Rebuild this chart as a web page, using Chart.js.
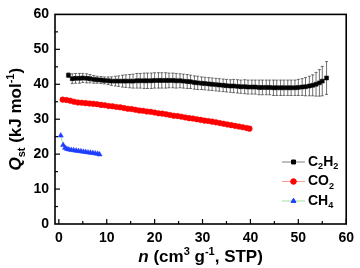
<!DOCTYPE html>
<html>
<head>
<meta charset="utf-8">
<script src="https://cdn.jsdelivr.net/npm/chart.js@4/dist/chart.umd.min.js"></script>
<style>
  html, body { margin: 0; padding: 0; background: #fff; }
  #wrap { width: 360px; height: 268px; }
</style>
</head>
<body>
<div id="wrap"><canvas id="qstChart" width="360" height="268"></canvas></div>
<script>
// valores
const c2h2N = [2.0, 2.8, 3.5, 4.3, 5.0, 5.8, 6.5, 7.3, 8.0, 8.8, 9.5, 10.3, 11.0, 11.8, 12.5, 13.3, 14.0, 14.8, 15.5, 16.3,
  17.0, 17.8, 18.5, 19.3, 20.0, 20.8, 21.5, 22.3, 23.0, 23.8, 24.5, 25.3, 26.0, 26.8, 27.5, 28.3, 29.0, 29.8, 30.5, 31.3,
  32.0, 32.8, 33.5, 34.3, 35.0, 35.8, 36.5, 37.3, 38.0, 38.8, 39.5, 40.3, 41.0, 41.8, 42.5, 43.3, 44.0, 44.8, 45.5, 46.3,
  47.0, 47.8, 48.5, 49.3, 50.0, 50.8, 51.5, 52.3, 53.0, 53.7, 54.4, 55.0, 55.9];
const c2h2Q = [42.6, 41.6, 41.7, 41.7, 41.8, 41.7, 41.6, 41.4, 41.3, 41.2, 41.1, 41.0, 40.9, 40.9, 40.9, 40.9, 40.9, 40.9, 40.9, 41.0,
  41.0, 41.0, 41.0, 41.0, 41.1, 41.1, 41.1, 41.1, 41.1, 41.1, 41.0, 41.0, 40.9, 40.8, 40.7, 40.5, 40.4, 40.3, 40.2, 40.1,
  40.0, 39.9, 39.8, 39.7, 39.6, 39.5, 39.5, 39.4, 39.3, 39.3, 39.2, 39.2, 39.2, 39.1, 39.1, 39.1, 39.1, 39.0, 39.0, 39.0,
  39.0, 39.0, 39.0, 39.0, 39.1, 39.2, 39.3, 39.5, 39.7, 40.0, 40.4, 40.9, 41.8];
const c2h2Err = [0.6, 1.4, 1.4, 1.4, 1.3, 1.3, 1.2, 1.1, 1.0, 1.0, 1.0, 1.1, 1.2, 1.4, 1.5, 1.7, 1.8, 1.9, 2.0, 2.1,
  2.1, 2.2, 2.2, 2.2, 2.2, 2.2, 2.2, 2.2, 2.1, 2.1, 2.1, 2.0, 2.0, 2.0, 1.9, 1.9, 1.9, 1.8, 1.8, 1.8,
  1.8, 1.8, 1.8, 1.8, 1.8, 1.8, 1.9, 1.9, 1.9, 2.0, 2.0, 2.0, 2.0, 2.1, 2.1, 2.1, 2.1, 2.2, 2.2, 2.2,
  2.2, 2.2, 2.2, 2.2, 2.3, 2.4, 2.6, 2.8, 3.0, 3.4, 3.8, 4.2, 4.7];

const co2N = [0.8, 1.6, 2.4, 3.2, 4.0, 4.8, 5.6, 6.4, 7.2, 8.0, 8.8, 9.6, 10.4, 11.2, 12.0, 12.8, 13.6, 14.4, 15.2, 16.0,
  16.8, 17.6, 18.4, 19.2, 20.0, 20.8, 21.6, 22.4, 23.2, 24.0, 24.8, 25.6, 26.4, 27.2, 28.0, 28.8, 29.6, 30.4, 31.2, 32.0,
  32.8, 33.6, 34.4, 35.2, 36.0, 36.8, 37.6, 38.4, 39.2, 39.8];
const co2Q = [35.6, 35.5, 35.3, 35.0, 34.8, 34.7, 34.6, 34.5, 34.4, 34.3, 34.1, 34.0, 33.8, 33.7, 33.5, 33.4, 33.2, 33.0, 32.9, 32.7,
  32.5, 32.4, 32.2, 32.1, 31.9, 31.7, 31.6, 31.4, 31.2, 31.0, 30.9, 30.7, 30.5, 30.3, 30.2, 30.0, 29.8, 29.6, 29.5, 29.3,
  29.1, 28.9, 28.7, 28.5, 28.3, 28.1, 27.9, 27.7, 27.5, 27.3];

const ch4N = [0.4, 0.9, 1.3, 1.7, 2.1, 2.6, 3.1, 3.6, 4.1, 4.6, 5.1, 5.6, 6.1, 6.6, 7.1, 7.6, 8.1, 8.5];
const ch4Q = [25.3, 22.6, 21.8, 21.5, 21.3, 21.2, 21.1, 21.0, 20.9, 20.8, 20.7, 20.6, 20.5, 20.4, 20.3, 20.2, 20.1, 19.9];

const xTicks = [0, 10, 20, 30, 40, 50, 60];
const yTicks = [0, 10, 20, 30, 40, 50, 60];
const seriesNames = [["C", "2", "H", "2"], ["CO", "2"], ["CH", "4"]];

const FONT = "'Liberation Sans', Arial, sans-serif";

const toPts = (xs, ys) => xs.map((x, i) => ({ x: x, y: ys[i] }));

// barras de error, se pintan con las escalas del grafico
const errorBars = {
  id: "errorBars",
  beforeDatasetsDraw(chart) {
    const ctx = chart.ctx;
    const xs = chart.scales.x, ys = chart.scales.y;
    ctx.save();
    ctx.strokeStyle = "#333";
    ctx.lineWidth = 0.7;
    for (let i = 0; i < c2h2N.length; i++) {
      const px = xs.getPixelForValue(c2h2N[i]);
      const top = ys.getPixelForValue(c2h2Q[i] + c2h2Err[i]);
      const bot = ys.getPixelForValue(c2h2Q[i] - c2h2Err[i]);
      ctx.beginPath();
      ctx.moveTo(px, top); ctx.lineTo(px, bot);
      ctx.moveTo(px - 1.5, top); ctx.lineTo(px + 1.5, top);
      ctx.moveTo(px - 1.5, bot); ctx.lineTo(px + 1.5, bot);
      ctx.stroke();
    }
    ctx.restore();
  }
};

// texto con subindices: partes alternas normal-sub
function drawParts(ctx, parts, x, y, size, shift) {
  let cx = x;
  parts.forEach((p, k) => {
    const small = k % 2 === 1;
    ctx.font = "bold " + (small ? size * 0.65 : size) + "px " + FONT;
    ctx.fillText(p, cx, small ? y + shift : y);
    cx += ctx.measureText(p).width;
  });
}

// piezas con fuente y desplazamiento propio
function drawRich(ctx, parts, cx0, y) {
  let w = 0;
  parts.forEach(p => { ctx.font = p[1] + " " + FONT; w += ctx.measureText(p[0]).width; });
  let cx = cx0 - w / 2;
  parts.forEach(p => {
    ctx.font = p[1] + " " + FONT;
    ctx.fillText(p[0], cx, y + (p[2] || 0));
    cx += ctx.measureText(p[0]).width;
  });
}

const frame = {
  id: "frame",
  afterDraw(chart) {
    const ctx = chart.ctx;
    const a = chart.chartArea;
    const xs = chart.scales.x, ys = chart.scales.y;
    ctx.save();
    ctx.strokeStyle = "#000";
    ctx.lineWidth = 1.6;
    ctx.strokeRect(a.left, a.top, a.right - a.left, a.bottom - a.top);

    // marcas hacia dentro
    ctx.lineWidth = 1.2;
    for (let v = 0; v <= 60; v += 5) {
      const len = v % 10 === 0 ? 5 : 3;
      const px = xs.getPixelForValue(v);
      ctx.beginPath(); ctx.moveTo(px, a.bottom); ctx.lineTo(px, a.bottom - len); ctx.stroke();
      if (v > 0 && v < 60) {
        const py = ys.getPixelForValue(v);
        ctx.beginPath(); ctx.moveTo(a.left, py); ctx.lineTo(a.left + len, py); ctx.stroke();
      }
    }

    // leyenda
    const legColors = [["#808080", "#000"], ["#ff9a9a", "#ff0000"], ["#9be39b", "#1f3dff"]];
    const styles = ["rect", "circle", "triangle"];
    const legY = [162, 181.5, 201];
    ctx.textBaseline = "middle";
    ctx.textAlign = "left";
    for (let i = 0; i < 3; i++) {
      ctx.strokeStyle = legColors[i][0];
      ctx.lineWidth = 1;
      ctx.beginPath(); ctx.moveTo(282, legY[i]); ctx.lineTo(305, legY[i]); ctx.stroke();
      ctx.fillStyle = legColors[i][1];
      ctx.strokeStyle = legColors[i][1];
      Chart.helpers.drawPoint(ctx, { pointStyle: styles[i], radius: 2.8, borderWidth: 0.5 }, 293.5, legY[i]);
      ctx.fillStyle = "#000";
      drawParts(ctx, seriesNames[i], 308, legY[i], 14, 4.5);
    }

    // titulo eje x
    ctx.fillStyle = "#000";
    ctx.textBaseline = "alphabetic";
    drawRich(ctx, [["n", "italic bold 17px"], [" (cm", "bold 17px"], ["3", "bold 11px", -7], [" g", "bold 17px"],
      ["-1", "bold 11px", -7], [", STP)", "bold 17px"]], (a.left + a.right) / 2, 262);

    // titulo eje y
    ctx.translate(21, (a.top + a.bottom) / 2);
    ctx.rotate(-Math.PI / 2);
    drawRich(ctx, [["Q", "italic bold 17px"], ["st", "bold 11px", 4], [" (kJ mol", "bold 17px"],
      ["-1", "bold 11px", -7], [")", "bold 17px"]], 0, 0);
    ctx.restore();
  }
};

new Chart(document.getElementById("qstChart"), {
  type: "scatter",
  data: {
    datasets: [
      {
        label: "C2H2",
        data: toPts(c2h2N, c2h2Q),
        showLine: true,
        borderColor: "#808080",
        borderWidth: 1,
        pointStyle: "rect",
        pointRadius: 2.8,
        pointBackgroundColor: "#000",
        pointBorderColor: "#000",
        pointBorderWidth: 0.5
      },
      {
        label: "CO2",
        data: toPts(co2N, co2Q),
        showLine: true,
        borderColor: "#ff9a9a",
        borderWidth: 1,
        pointStyle: "circle",
        pointRadius: 2.8,
        pointBackgroundColor: "#ff0000",
        pointBorderColor: "#ff0000",
        pointBorderWidth: 0.5
      },
      {
        label: "CH4",
        data: toPts(ch4N, ch4Q),
        showLine: true,
        borderColor: "#9be39b",
        borderWidth: 1,
        pointStyle: "triangle",
        pointRadius: 3,
        pointBackgroundColor: "#1f3dff",
        pointBorderColor: "#1f3dff",
        pointBorderWidth: 0.5
      }
    ]
  },
  options: {
    responsive: false,
    animation: false,
    layout: { padding: { top: 7, right: 8, left: 0, bottom: 0 } },
    plugins: { legend: { display: false }, tooltip: { enabled: false } },
    scales: {
      x: {
        type: "linear",
        min: -0.8,
        max: 60,
        grid: { display: false, drawTicks: false },
        border: { display: false },
        afterBuildTicks: s => { s.ticks = xTicks.map(v => ({ value: v })); },
        afterFit: s => { s.height = 44; },
        ticks: { color: "#000", padding: 6, maxRotation: 0, font: { family: FONT, size: 14, weight: "bold" } }
      },
      y: {
        min: 0,
        max: 60,
        grid: { display: false, drawTicks: false },
        border: { display: false },
        afterBuildTicks: s => { s.ticks = yTicks.map(v => ({ value: v })); },
        afterFit: s => { s.width = 55; },
        ticks: { color: "#000", padding: 6, font: { family: FONT, size: 14, weight: "bold" } }
      }
    }
  },
  plugins: [errorBars, frame]
});
</script>
</body>
</html>
